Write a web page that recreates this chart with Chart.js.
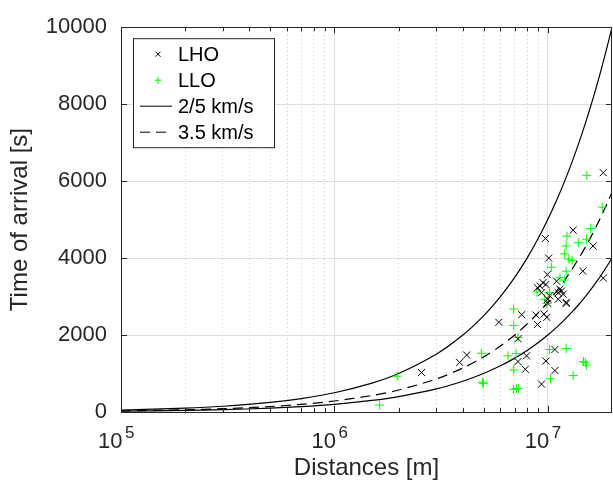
<!DOCTYPE html>
<html>
<head>
<meta charset="utf-8">
<script src="https://cdn.jsdelivr.net/npm/chart.js@4/dist/chart.umd.min.js"></script>
<style>
  html, body { margin: 0; padding: 0; background: #fff; }
  #wrap { width: 613px; height: 485px; }
</style>
</head>
<body>
<div id="wrap"><canvas id="arrivalChart" width="613" height="485"></canvas></div>
<script>
// data
const lhoDistance = [2.56e6, 3.86e6, 4.17e6, 5.9e6, 7.55e6, 8.8e6, 8.95e6, 9.9e6, 9.6e6, 7.25e6,
  7.95e6, 7.25e6, 7.85e6, 9.8e6, 1.08e7, 1.08e7, 9.35e6, 1.0e7, 1.22e7, 1.82e7,
  1.315e7, 9.75e6, 1.63e7, 1.01e7, 1.46e7, 1.82e7, 9.95e6, 9.8e6, 8.95e6, 1.1e7,
  1.14e7, 1.16e7, 1.18e7, 1.22e7, 1.0e7, 9.5e6, 9.35e6, 1.12e7, 1.02e7, 1.12e7, 9.2e6];
const lhoTime = [1025, 1290, 1480, 2330, 2530, 2520, 2275, 2460, 2545, 1905,
  1460, 1310, 1110, 1325, 1625, 1077, 725, 2820, 2820, 6220,
  4725, 4510, 4315, 4000, 3660, 3480, 3570, 3315, 3230, 3400,
  3190, 3145, 3060, 2850, 2930, 3360, 3100, 3100, 3020, 2930, 3270];

const lloDistance = [1.63e6, 1.97e6, 4.9e6, 4.94e6, 5.0e6, 6.51e6, 7.11e6, 6.92e6, 6.92e6, 7.25e6,
  6.92e6, 7.14e6, 6.92e6, 7.3e6, 1.02e7, 1.22e7, 1.03e7, 1.315e7, 1.47e7, 1.52e7,
  1.5e7, 1.525e7, 1.8e7, 1.59e7, 1.52e7, 1.39e7, 1.23e7, 1.22e7, 1.2e7, 1.255e7,
  1.3e7, 1.04e7, 1.14e7, 1.22e7, 1.2e7, 8.9e6, 9.68e6, 9.9e6, 1.02e7];
const lloTime = [180, 930, 1525, 777, 745, 1460, 1520, 2675, 2250, 1935,
  1095, 610, 590, 615, 1625, 1650, 865, 950, 1310, 1220,
  1280, 6150, 5325, 4770, 4490, 4400, 4570, 4315, 4110, 3975,
  3940, 3760, 3490, 3660, 3430, 3120, 2930, 2820, 3100];

// reference curves (distance / speed)
const curveDistance = [1e5, 2e5, 3e5, 5e5, 7e5, 1e6, 1.5e6, 2e6, 3e6, 4e6, 5e6, 6e6, 7e6, 8e6, 9e6,
  1e7, 1.1e7, 1.2e7, 1.3e7, 1.4e7, 1.5e7, 1.6e7, 1.7e7, 1.8e7, 1.9e7, 2e7];
const time2kms = [50, 100, 150, 250, 350, 500, 750, 1000, 1500, 2000, 2500, 3000, 3500, 4000, 4500,
  5000, 5500, 6000, 6500, 7000, 7500, 8000, 8500, 9000, 9500, 10000];
const time5kms = [20, 40, 60, 100, 140, 200, 300, 400, 600, 800, 1000, 1200, 1400, 1600, 1800,
  2000, 2200, 2400, 2600, 2800, 3000, 3200, 3400, 3600, 3800, 4000];
const time35kms = [28.6, 57.1, 85.7, 142.9, 200, 285.7, 428.6, 571.4, 857.1, 1142.9, 1428.6, 1714.3, 2000, 2285.7, 2571.4,
  2857.1, 3142.9, 3428.6, 3714.3, 4000, 4285.7, 4571.4, 4857.1, 5142.9, 5428.6, 5714.3];

const majorTicksX = [1e5, 1e6, 1e7];
const exponentsX = ['5', '6', '7'];
const minorTicksX = [2e5, 3e5, 4e5, 5e5, 6e5, 7e5, 8e5, 9e5, 2e6, 3e6, 4e6, 5e6, 6e6, 7e6, 8e6, 9e6];
const ticksY = [0, 2000, 4000, 6000, 8000, 10000];

const FONT = 'Liberation Sans, Arial, Helvetica, sans-serif';
const TEXT = '#262626';
const GREEN = '#00ff00';

const pairs = (xs, ys) => xs.map((x, i) => ({ x: x, y: ys[i] }));

// box around the axes, MATLAB style inner tick marks and 10^n labels
const framePlugin = {
  id: 'frame',
  afterDraw(chart) {
    const { ctx, chartArea: a } = chart;
    const xs = chart.scales.x;
    const ys = chart.scales.y;
    ctx.save();
    ctx.strokeStyle = TEXT;
    ctx.lineWidth = 1;
    ctx.beginPath();
    majorTicksX.concat(minorTicksX).forEach(v => {
      const px = Math.round(xs.getPixelForValue(v)) + 0.5;
      const len = majorTicksX.includes(v) ? 6 : 4;
      ctx.moveTo(px, a.bottom); ctx.lineTo(px, a.bottom - len);
      ctx.moveTo(px, a.top); ctx.lineTo(px, a.top + len);
    });
    ticksY.forEach(v => {
      const py = Math.round(ys.getPixelForValue(v)) + 0.5;
      ctx.moveTo(a.left, py); ctx.lineTo(a.left + 6, py);
      ctx.moveTo(a.right, py); ctx.lineTo(a.right - 6, py);
    });
    ctx.stroke();
    ctx.strokeRect(Math.round(a.left) + 0.5, Math.round(a.top) + 0.5,
      Math.round(a.right - a.left) - 1, Math.round(a.bottom - a.top));

    // x tick labels as 10 with a raised exponent
    ctx.fillStyle = TEXT;
    ctx.textBaseline = 'alphabetic';
    majorTicksX.forEach((v, i) => {
      const px = xs.getPixelForValue(v);
      ctx.font = '22px ' + FONT;
      ctx.textAlign = 'right';
      ctx.fillText('10', px + 1.5, a.bottom + 36);
      ctx.font = '17px ' + FONT;
      ctx.textAlign = 'left';
      ctx.fillText(exponentsX[i], px + 4, a.bottom + 26);
    });
    ctx.restore();
  }
};

// legend box inside the axes, top-left
const legendPlugin = {
  id: 'boxLegend',
  afterDraw(chart) {
    const { ctx, chartArea: a } = chart;
    const left = a.left + 12, top = a.top + 11, w = 141, h = 109;
    ctx.save();
    ctx.fillStyle = '#fff';
    ctx.fillRect(left, top, w, h);
    ctx.strokeStyle = TEXT;
    ctx.lineWidth = 1;
    ctx.strokeRect(left + 0.5, top + 0.5, w, h);

    const rows = [
      { label: 'LHO', kind: 'crossRot', color: '#000' },
      { label: 'LLO', kind: 'cross', color: GREEN },
      { label: '2/5 km/s', kind: 'solid', color: '#000' },
      { label: '3.5 km/s', kind: 'dash', color: '#000' }
    ];
    ctx.font = '20px ' + FONT;
    ctx.textBaseline = 'middle';
    rows.forEach((r, i) => {
      const cy = top + 16 + i * 26;
      const cx = left + 25;
      ctx.strokeStyle = r.color;
      ctx.lineWidth = 1;
      ctx.beginPath();
      if (r.kind === 'crossRot') {
        ctx.moveTo(cx - 2.5, cy - 2.5); ctx.lineTo(cx + 2.5, cy + 2.5);
        ctx.moveTo(cx + 2.5, cy - 2.5); ctx.lineTo(cx - 2.5, cy + 2.5);
      } else if (r.kind === 'cross') {
        ctx.moveTo(cx - 3.5, cy); ctx.lineTo(cx + 3.5, cy);
        ctx.moveTo(cx, cy - 3.5); ctx.lineTo(cx, cy + 3.5);
      } else {
        if (r.kind === 'dash') ctx.setLineDash([10, 6]);
        ctx.moveTo(left + 7, cy); ctx.lineTo(left + 39, cy);
      }
      ctx.stroke();
      ctx.setLineDash([]);
      ctx.fillStyle = '#000';
      ctx.fillText(r.label, left + 45, cy + 1);
    });
    ctx.restore();
  }
};

const noSidePadding = scale => { scale.paddingLeft = 0; scale.paddingRight = 0; };

new Chart(document.getElementById('arrivalChart'), {
  type: 'scatter',
  data: {
    datasets: [
      {
        label: 'LHO',
        data: pairs(lhoDistance, lhoTime),
        pointStyle: 'crossRot',
        pointRadius: 5,
        borderColor: '#000',
        backgroundColor: '#000',
        pointBorderWidth: 1
      },
      {
        label: 'LLO',
        data: pairs(lloDistance, lloTime),
        pointStyle: 'cross',
        pointRadius: 4.5,
        borderColor: GREEN,
        backgroundColor: GREEN,
        pointBorderWidth: 1
      },
      {
        label: '2 km/s',
        type: 'line',
        data: pairs(curveDistance, time2kms),
        borderColor: '#000',
        borderWidth: 1.2,
        pointRadius: 0,
        tension: 0.3,
        fill: false
      },
      {
        label: '5 km/s',
        type: 'line',
        data: pairs(curveDistance, time5kms),
        borderColor: '#000',
        borderWidth: 1.2,
        pointRadius: 0,
        tension: 0.3,
        fill: false
      },
      {
        label: '3.5 km/s',
        type: 'line',
        data: pairs(curveDistance, time35kms),
        borderColor: '#000',
        borderWidth: 1.2,
        borderDash: [10, 6],
        pointRadius: 0,
        tension: 0.3,
        fill: false
      }
    ]
  },
  options: {
    responsive: false,
    animation: false,
    devicePixelRatio: 1,
    layout: { autoPadding: false, padding: { top: 21, right: 1, left: 0, bottom: 0 } },
    plugins: {
      legend: { display: false },
      tooltip: { enabled: false }
    },
    scales: {
      x: {
        type: 'logarithmic',
        position: 'bottom',
        min: 1e5,
        max: 2e7,
        afterBuildTicks: scale => { scale.ticks = majorTicksX.map(v => ({ value: v })); },
        afterFit: scale => { scale.height = 73; noSidePadding(scale); },
        grid: { color: '#dedede', lineWidth: 1, drawTicks: false },
        border: { display: false },
        ticks: { display: false },
        title: {
          display: true,
          text: 'Distances [m]',
          color: TEXT,
          font: { family: FONT, size: 24 },
          padding: { top: 0, bottom: 2 }
        }
      },
      xMinor: {
        type: 'logarithmic',
        position: 'bottom',
        min: 1e5,
        max: 2e7,
        afterBuildTicks: scale => { scale.ticks = minorTicksX.map(v => ({ value: v })); },
        afterFit: scale => { scale.height = 0; noSidePadding(scale); },
        grid: { color: '#c8c8c8', lineWidth: 1, drawTicks: false },
        border: { display: false, dash: [1, 3] },
        ticks: { display: false }
      },
      y: {
        min: 0,
        max: 10000,
        afterBuildTicks: scale => { scale.ticks = ticksY.map(v => ({ value: v })); },
        afterFit: scale => { scale.width = 121; },
        grid: { color: '#dedede', lineWidth: 1, drawTicks: false },
        border: { display: false },
        ticks: {
          color: TEXT,
          font: { family: FONT, size: 22 },
          padding: 14,
          callback: value => String(value)
        },
        title: {
          display: true,
          text: 'Time of arrival [s]',
          color: TEXT,
          font: { family: FONT, size: 24 },
          padding: { top: 6, bottom: 0 }
        }
      }
    }
  },
  plugins: [framePlugin, legendPlugin]
});
</script>
</body>
</html>
